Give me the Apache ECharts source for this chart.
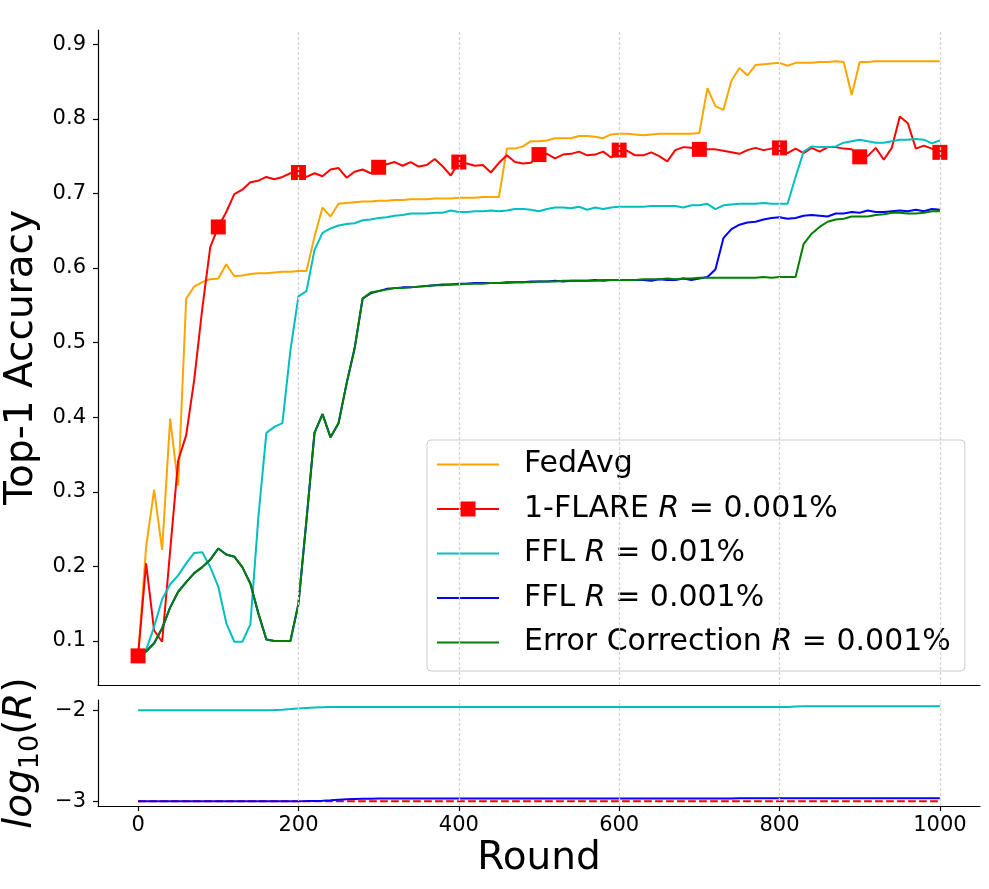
<!DOCTYPE html>
<html>
<head>
<meta charset="utf-8">
<script src="https://cdn.jsdelivr.net/npm/echarts@6/dist/echarts.min.js"></script>
<style>
html, body { margin: 0; padding: 0; background: #fff; }
#chart { width: 989px; height: 889px; }
</style>
</head>
<body>
<div id="chart"></div>
<script>
// rounds 0..1000, one point every 10 rounds
var rounds = [
    0, 10, 20, 30, 40, 50, 60, 70, 80, 90,
    100, 110, 120, 130, 140, 150, 160, 170, 180, 190,
    200, 210, 220, 230, 240, 250, 260, 270, 280, 290,
    300, 310, 320, 330, 340, 350, 360, 370, 380, 390,
    400, 410, 420, 430, 440, 450, 460, 470, 480, 490,
    500, 510, 520, 530, 540, 550, 560, 570, 580, 590,
    600, 610, 620, 630, 640, 650, 660, 670, 680, 690,
    700, 710, 720, 730, 740, 750, 760, 770, 780, 790,
    800, 810, 820, 830, 840, 850, 860, 870, 880, 890,
    900, 910, 920, 930, 940, 950, 960, 970, 980, 990,
    1000
];

var fedAvg = [
    0.080, 0.226, 0.303, 0.222, 0.398, 0.308, 0.559, 0.575, 0.581, 0.585,
    0.586, 0.605, 0.589, 0.590, 0.592, 0.593, 0.593, 0.594, 0.595, 0.595,
    0.596, 0.596, 0.642, 0.681, 0.669, 0.686, 0.687, 0.688, 0.689, 0.689,
    0.690, 0.690, 0.691, 0.691, 0.692, 0.692, 0.692, 0.693, 0.693, 0.693,
    0.694, 0.694, 0.694, 0.695, 0.695, 0.695, 0.760, 0.760, 0.763, 0.770,
    0.770, 0.771, 0.774, 0.774, 0.774, 0.777, 0.777, 0.776, 0.774, 0.779,
    0.780, 0.780, 0.779, 0.778, 0.779, 0.780, 0.780, 0.780, 0.780, 0.780,
    0.781, 0.841, 0.817, 0.812, 0.851, 0.868, 0.858, 0.872, 0.873, 0.874,
    0.875, 0.871, 0.875, 0.875, 0.875, 0.876, 0.876, 0.877, 0.876, 0.832,
    0.876, 0.876, 0.877, 0.877, 0.877, 0.877, 0.877, 0.877, 0.877, 0.877,
    0.877
];

var flare = [
    0.080, 0.204, 0.114, 0.099, 0.221, 0.342, 0.376, 0.450, 0.545, 0.628,
    0.655, 0.675, 0.699, 0.705, 0.715, 0.717, 0.722, 0.719, 0.722, 0.727,
    0.728, 0.722, 0.727, 0.723, 0.732, 0.734, 0.721, 0.729, 0.732, 0.727,
    0.735, 0.739, 0.742, 0.737, 0.742, 0.736, 0.738, 0.746, 0.736, 0.724,
    0.742, 0.740, 0.737, 0.738, 0.728, 0.741, 0.751, 0.742, 0.740, 0.741,
    0.752, 0.753, 0.747, 0.752, 0.753, 0.756, 0.751, 0.752, 0.756, 0.748,
    0.758, 0.757, 0.751, 0.751, 0.755, 0.750, 0.743, 0.758, 0.762, 0.761,
    0.759, 0.759, 0.759, 0.757, 0.755, 0.753, 0.758, 0.761, 0.758, 0.760,
    0.761, 0.754, 0.760, 0.754, 0.761, 0.756, 0.762, 0.762, 0.760, 0.759,
    0.749, 0.750, 0.761, 0.745, 0.761, 0.803, 0.794, 0.760, 0.764, 0.760,
    0.755
];

var ffl01 = [
    0.082, 0.088, 0.119, 0.156, 0.176, 0.188, 0.204, 0.218, 0.219, 0.199,
    0.173, 0.124, 0.099, 0.099, 0.122, 0.266, 0.379, 0.387, 0.392, 0.490,
    0.562, 0.569, 0.624, 0.647, 0.653, 0.657, 0.659, 0.660, 0.664, 0.665,
    0.667, 0.668, 0.670, 0.671, 0.673, 0.673, 0.673, 0.674, 0.674, 0.677,
    0.675, 0.675, 0.676, 0.676, 0.677, 0.676, 0.677, 0.679, 0.679, 0.678,
    0.676, 0.679, 0.681, 0.681, 0.680, 0.682, 0.678, 0.681, 0.679, 0.681,
    0.682, 0.682, 0.682, 0.682, 0.683, 0.683, 0.683, 0.683, 0.681, 0.684,
    0.684, 0.686, 0.679, 0.684, 0.685, 0.686, 0.686, 0.686, 0.687, 0.686,
    0.686, 0.686, 0.722, 0.756, 0.763, 0.762, 0.762, 0.763, 0.768, 0.770,
    0.772, 0.770, 0.768, 0.768, 0.770, 0.772, 0.772, 0.773, 0.772, 0.767,
    0.771
];

var ffl001 = [
    0.081, 0.086, 0.097, 0.117, 0.145, 0.166, 0.179, 0.191, 0.199, 0.209,
    0.224, 0.216, 0.213, 0.199, 0.177, 0.137, 0.102, 0.100, 0.100, 0.100,
    0.150, 0.262, 0.379, 0.404, 0.373, 0.392, 0.445, 0.492, 0.559, 0.566,
    0.569, 0.572, 0.573, 0.574, 0.574, 0.575, 0.576, 0.577, 0.578, 0.578,
    0.579, 0.579, 0.580, 0.580, 0.580, 0.580, 0.581, 0.581, 0.581, 0.582,
    0.582, 0.582, 0.583, 0.582, 0.583, 0.583, 0.583, 0.584, 0.583, 0.584,
    0.584, 0.584, 0.584, 0.584, 0.583, 0.585, 0.584, 0.584, 0.586, 0.584,
    0.586, 0.588, 0.598, 0.640, 0.652, 0.658, 0.661, 0.662, 0.665, 0.667,
    0.668, 0.666, 0.667, 0.670, 0.671, 0.670, 0.669, 0.673, 0.673, 0.675,
    0.674, 0.677, 0.675, 0.675, 0.676, 0.677, 0.676, 0.678, 0.676, 0.679,
    0.678
];

var errCorr = [
    0.081, 0.086, 0.097, 0.117, 0.145, 0.166, 0.179, 0.191, 0.199, 0.209,
    0.224, 0.216, 0.213, 0.199, 0.177, 0.137, 0.102, 0.100, 0.100, 0.100,
    0.150, 0.262, 0.379, 0.404, 0.373, 0.392, 0.445, 0.492, 0.559, 0.567,
    0.569, 0.571, 0.573, 0.573, 0.574, 0.575, 0.576, 0.577, 0.577, 0.578,
    0.578, 0.579, 0.579, 0.579, 0.580, 0.580, 0.580, 0.581, 0.581, 0.581,
    0.582, 0.582, 0.582, 0.583, 0.583, 0.583, 0.583, 0.583, 0.584, 0.584,
    0.584, 0.584, 0.584, 0.585, 0.585, 0.585, 0.586, 0.585, 0.586, 0.586,
    0.587, 0.587, 0.587, 0.587, 0.587, 0.587, 0.587, 0.587, 0.588, 0.587,
    0.588, 0.588, 0.588, 0.632, 0.646, 0.655, 0.662, 0.665, 0.666, 0.669,
    0.669, 0.669, 0.671, 0.672, 0.674, 0.674, 0.673, 0.673, 0.674, 0.676,
    0.676
];

// log10 of the rate R (in %) for the lower panel
var ffl01LogR = [
    -2.000, -2.000, -2.000, -2.000, -2.000, -2.000, -2.000, -2.000, -2.000, -2.000,
    -2.000, -2.000, -2.000, -2.000, -2.000, -2.000, -1.999, -1.997, -1.993, -1.987,
    -1.980, -1.975, -1.970, -1.967, -1.965, -1.964, -1.963, -1.963, -1.963, -1.963,
    -1.963, -1.963, -1.963, -1.963, -1.963, -1.963, -1.963, -1.963, -1.963, -1.963,
    -1.963, -1.963, -1.963, -1.963, -1.963, -1.963, -1.963, -1.963, -1.963, -1.963,
    -1.963, -1.963, -1.963, -1.963, -1.963, -1.963, -1.963, -1.963, -1.963, -1.963,
    -1.963, -1.963, -1.963, -1.963, -1.963, -1.963, -1.963, -1.963, -1.963, -1.963,
    -1.963, -1.963, -1.963, -1.963, -1.963, -1.963, -1.963, -1.963, -1.963, -1.963,
    -1.963, -1.963, -1.958, -1.955, -1.955, -1.955, -1.955, -1.955, -1.955, -1.955,
    -1.955, -1.955, -1.955, -1.955, -1.955, -1.955, -1.955, -1.955, -1.955, -1.955,
    -1.955
];

var ffl001LogR = [
    -3.000, -3.000, -3.000, -3.000, -3.000, -3.000, -3.000, -3.000, -3.000, -3.000,
    -3.000, -3.000, -3.000, -3.000, -3.000, -3.000, -3.000, -3.000, -3.000, -3.000,
    -3.000, -2.999, -2.997, -2.994, -2.990, -2.985, -2.980, -2.976, -2.973, -2.972,
    -2.971, -2.971, -2.971, -2.971, -2.971, -2.971, -2.971, -2.971, -2.971, -2.971,
    -2.971, -2.971, -2.971, -2.971, -2.971, -2.971, -2.971, -2.971, -2.971, -2.971,
    -2.971, -2.971, -2.971, -2.971, -2.971, -2.971, -2.971, -2.971, -2.971, -2.971,
    -2.971, -2.971, -2.971, -2.971, -2.971, -2.971, -2.971, -2.971, -2.971, -2.971,
    -2.971, -2.971, -2.971, -2.971, -2.971, -2.968, -2.968, -2.968, -2.968, -2.968,
    -2.968, -2.968, -2.968, -2.968, -2.968, -2.968, -2.968, -2.968, -2.968, -2.968,
    -2.968, -2.968, -2.968, -2.968, -2.968, -2.968, -2.968, -2.968, -2.968, -2.968,
    -2.968
];

// 1-FLARE keeps a fixed rate
var flareLogRounds = [0, 1000];
var flareLogR = [-3, -3];

var roundTicks = [0, 200, 400, 600, 800, 1000];
var accTicks = [0.1, 0.2, 0.3, 0.4, 0.5, 0.6, 0.7, 0.8, 0.9];
var logTicks = [-3, -2];
var vLines = [200, 400, 600, 800, 1000];

var font = 'DejaVu Sans';
var markerEvery = 10;

var legendText = {
    'FedAvg': 'FedAvg',
    '1-FLARE': '1-FLARE {i|R} = 0.001%',
    'FFL 0.01': 'FFL {i|R} = 0.01%',
    'FFL 0.001': 'FFL {i|R} = 0.001%',
    'Error Correction': 'Error Correction {i|R} = 0.001%'
};

// legend glyphs: plain line, or line with a square marker
var lineIcon = 'path://M0,0 L62,0 L62,2 L0,2 Z';
var markerIcon = 'path://M0,6.5 L62,6.5 L62,8.5 L0,8.5 Z M23.5,0 L38.5,0 L38.5,15 L23.5,15 Z';

function pairs(xs, ys) {
    return xs.map(function (x, i) { return [x, ys[i]]; });
}

function minusSign(v) {
    return String(v).replace('-', '\u2212');
}

var chart = echarts.init(document.getElementById('chart'));

function vGrid(idx) {
    return {
        type: 'line', name: 'vgrid' + idx,
        xAxisIndex: idx, yAxisIndex: idx,
        data: [], silent: true, z: 1,
        markLine: {
            silent: true,
            symbol: ['none', 'none'],
            label: { show: false },
            lineStyle: { color: '#d4d4d4', type: [3, 2], width: 1.3 },
            data: vLines.map(function (r) { return { xAxis: r }; })
        }
    };
}

function lineSeries(name, ys, color, idx) {
    return {
        type: 'line', name: name,
        xAxisIndex: idx, yAxisIndex: idx,
        data: pairs(rounds, ys),
        symbol: 'none',
        lineStyle: { color: color, width: 2 },
        itemStyle: { color: color },
        z: 2
    };
}

var axisLineStyle = { color: '#000', width: 1.2 };
// keep the plot boxes exactly where they are set (no auto shrink for names)
var noShrink = { left: -200, right: -200, top: -200, bottom: -200 };

var option = {
    animation: false,
    backgroundColor: '#fff',
    grid: [
        { left: 98, right: 9, top: 30, height: 655, outerBoundsMode: 'none', outerBounds: noShrink },
        { left: 98, right: 9, top: 700, height: 106, outerBoundsMode: 'none', outerBounds: noShrink }
    ],
    xAxis: [
        {
            gridIndex: 0, type: 'value', min: -50, max: 1050,
            axisLine: { show: true, onZero: false, lineStyle: axisLineStyle },
            axisTick: { show: false },
            axisLabel: { show: false },
            splitLine: { show: false }
        },
        {
            gridIndex: 1, type: 'value', min: -50, max: 1050,
            axisLine: { show: true, onZero: false, lineStyle: axisLineStyle },
            axisTick: { show: true, length: 5, customValues: roundTicks, lineStyle: axisLineStyle },
            axisLabel: {
                customValues: roundTicks, margin: 9,
                formatter: function (v) { return String(v); },
                fontFamily: font, fontSize: 21, color: '#000'
            },
            splitLine: { show: false },
            name: 'Round', nameLocation: 'middle', nameGap: 33,
            nameTextStyle: { fontFamily: font, fontSize: 39, color: '#000' }
        }
    ],
    yAxis: [
        {
            gridIndex: 0, type: 'value', min: 0.041, max: 0.919,
            axisLine: { show: true, onZero: false, lineStyle: axisLineStyle },
            axisTick: { show: true, length: 5, customValues: accTicks, lineStyle: axisLineStyle },
            axisLabel: {
                customValues: accTicks, margin: 12,
                formatter: function (v) { return v.toFixed(1); },
                fontFamily: font, fontSize: 21, color: '#000'
            },
            splitLine: { show: false },
            name: 'Top-1 Accuracy', nameLocation: 'middle', nameRotate: 90, nameGap: 45,
            nameTextStyle: { fontFamily: font, fontSize: 39, color: '#000' }
        },
        {
            gridIndex: 1, type: 'value', min: -3.053, max: -1.887,
            axisLine: { show: true, onZero: false, lineStyle: axisLineStyle },
            axisTick: { show: true, length: 5, customValues: logTicks, lineStyle: axisLineStyle },
            axisLabel: {
                customValues: logTicks, margin: 12,
                formatter: minusSign,
                fontFamily: font, fontSize: 21, color: '#000'
            },
            splitLine: { show: false },
            name: '{i|log}{s|10}{n|(}{i|R}{n|)}',
            nameLocation: 'middle', nameRotate: 90, nameGap: 45,
            nameTextStyle: {
                fontFamily: font, fontSize: 39, color: '#000',
                rich: {
                    i: { fontFamily: font, fontSize: 39, fontStyle: 'italic', color: '#000', lineHeight: 46 },
                    n: { fontFamily: font, fontSize: 39, color: '#000', lineHeight: 46 },
                    s: { fontFamily: font, fontSize: 27, color: '#000', lineHeight: 27, verticalAlign: 'bottom' }
                }
            }
        }
    ],
    legend: {
        data: [
            { name: 'FedAvg', icon: lineIcon },
            { name: '1-FLARE', icon: markerIcon },
            { name: 'FFL 0.01', icon: lineIcon },
            { name: 'FFL 0.001', icon: lineIcon },
            { name: 'Error Correction', icon: lineIcon }
        ],
        orient: 'vertical', left: 427, top: 440,
        padding: [9, 14, 13, 10],
        itemGap: 13.5, itemWidth: 62, itemHeight: 18,
        backgroundColor: 'rgba(255,255,255,0.8)',
        borderColor: '#cccccc', borderWidth: 1, borderRadius: 4,
        selectedMode: false,
        formatter: function (n) { return legendText[n]; },
        textStyle: {
            fontFamily: font, fontSize: 30, color: '#000', lineHeight: 31,
            padding: [0, 0, 0, 20],
            rich: {
                i: { fontFamily: font, fontSize: 30, fontStyle: 'italic', color: '#000', lineHeight: 31 }
            }
        }
    },
    series: [
        vGrid(0),
        vGrid(1),
        lineSeries('FedAvg', fedAvg, '#ffa500', 0),
        {
            type: 'line', name: '1-FLARE',
            xAxisIndex: 0, yAxisIndex: 0,
            data: pairs(rounds, flare).map(function (p, i) {
                return i % markerEvery === 0 ? { value: p } : { value: p, symbol: 'none' };
            }),
            symbol: 'rect', symbolSize: 15, showSymbol: true, showAllSymbol: true,
            lineStyle: { color: '#ff0000', width: 2 },
            itemStyle: { color: '#ff0000' },
            z: 2
        },
        lineSeries('FFL 0.01', ffl01, '#00bfbf', 0),
        lineSeries('FFL 0.001', ffl001, '#0000ff', 0),
        lineSeries('Error Correction', errCorr, '#008000', 0),
        {
            type: 'line', name: 'flare logR',
            xAxisIndex: 1, yAxisIndex: 1,
            data: pairs(flareLogRounds, flareLogR),
            symbol: 'none',
            lineStyle: { color: '#ff0000', width: 2, type: [7.7, 3.3] },
            z: 2
        },
        lineSeries('ffl01 logR', ffl01LogR, '#00bfbf', 1),
        lineSeries('ffl001 logR', ffl001LogR, '#0000ff', 1)
    ]
};

chart.setOption(option);
</script>
</body>
</html>
